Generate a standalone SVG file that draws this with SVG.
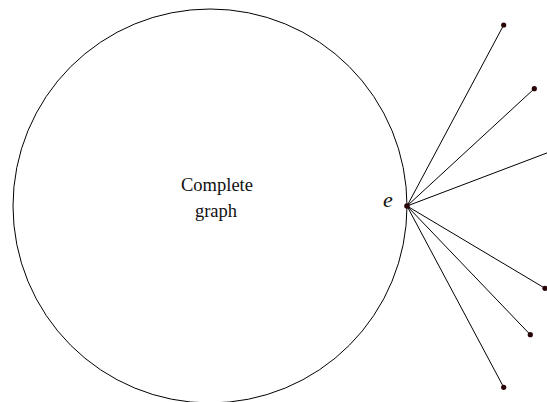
<svg xmlns="http://www.w3.org/2000/svg" width="547" height="402" viewBox="0 0 547 402">
<style>
.edge{stroke:#000;stroke-width:1;fill:none}
.dot{fill:#2a0508;stroke:none}
.lbl{fill:#111}
</style>
<rect width="547" height="402" fill="#fff"/>
<g id="complete-graph">
<circle cx="210" cy="206" r="197" class="edge"/>
<text class="lbl" font-family="'Liberation Serif', 'DejaVu Serif', serif" x="217" y="191" font-size="18.5" text-anchor="middle">Complete</text>
<text class="lbl" font-family="'Liberation Serif', 'DejaVu Serif', serif" x="216" y="217" font-size="18.5" text-anchor="middle">graph</text>
</g>
<g id="connectors">
<line class="edge" x1="407" y1="206" x2="503.7" y2="25"/>
<line class="edge" x1="407" y1="206" x2="534.3" y2="88.7"/>
<line class="edge" x1="407" y1="206" x2="560" y2="148"/>
<line class="edge" x1="407" y1="206" x2="545" y2="288.3"/>
<line class="edge" x1="407" y1="206" x2="530.3" y2="334.7"/>
<line class="edge" x1="407" y1="206" x2="503.7" y2="387.3"/>
</g>
<g id="e">
<circle class="dot" cx="407" cy="206" r="2.8"/>
<text class="lbl" font-family="'Liberation Serif', 'DejaVu Serif', serif" x="388" y="207" font-size="22" font-style="italic" text-anchor="middle">e</text>
</g>
<g id="v1"><circle class="dot" cx="503.7" cy="25" r="2.6"/></g>
<g id="v2"><circle class="dot" cx="534.3" cy="88.7" r="2.6"/></g>
<g id="v3"><circle class="dot" cx="560" cy="148" r="2.6"/></g>
<g id="v4"><circle class="dot" cx="545" cy="288.3" r="2.6"/></g>
<g id="v5"><circle class="dot" cx="530.3" cy="334.7" r="2.6"/></g>
<g id="v6"><circle class="dot" cx="503.7" cy="387.3" r="2.6"/></g>
</svg>
